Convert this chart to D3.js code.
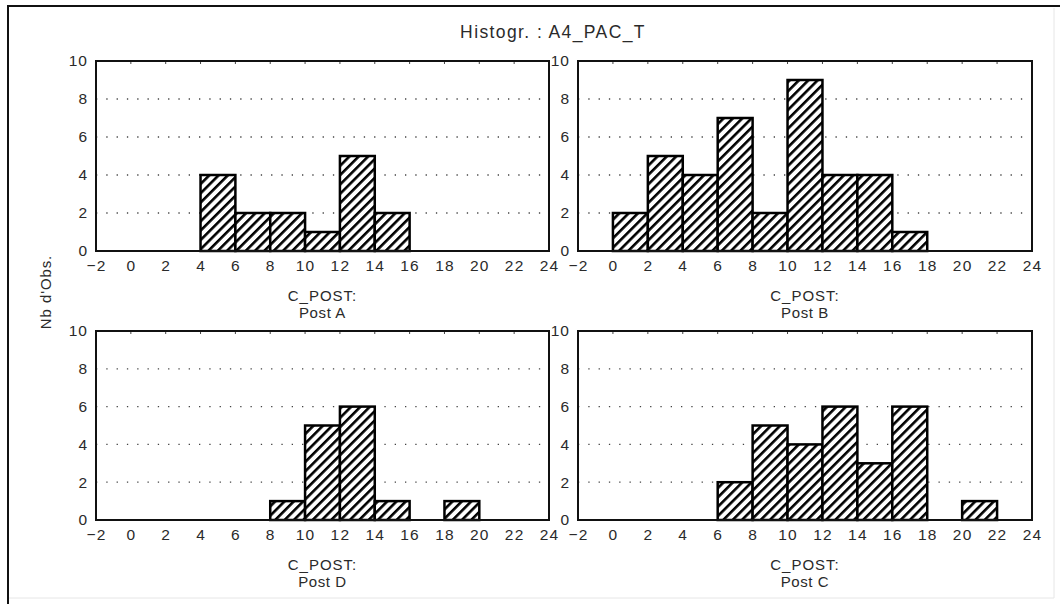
<!DOCTYPE html>
<html><head><meta charset="utf-8">
<script src="https://cdn.jsdelivr.net/npm/d3@7"></script>
<style>
html,body{margin:0;padding:0;background:#fff;}
svg{display:block;}
text{font-family:"Liberation Sans",Arial,sans-serif;fill:#2a2a2a;}
</style></head><body>
<svg id="chart" width="1060" height="604"></svg>
<script>
// ---- data ----
const title = "Histogr. : A4_PAC_T";
const yLabel = "Nb d'Obs.";
const xVar = "C_POST:";
const binStarts = [-2, 0, 2, 4, 6, 8, 10, 12, 14, 16, 18, 20, 22];
const binWidth = 2;
const xTicks = [-2, 0, 2, 4, 6, 8, 10, 12, 14, 16, 18, 20, 22, 24];
const yTicks = [0, 2, 4, 6, 8, 10];
const gridValues = [2, 4, 6, 8];
const panelNames = ["Post A", "Post B", "Post D", "Post C"];
const countsPostA = [0, 0, 0, 4, 2, 2, 1, 5, 2, 0, 0, 0, 0];
const countsPostB = [0, 2, 5, 4, 7, 2, 9, 4, 4, 1, 0, 0, 0];
const countsPostD = [0, 0, 0, 0, 0, 1, 5, 6, 1, 0, 1, 0, 0];
const countsPostC = [0, 0, 0, 0, 2, 5, 4, 6, 3, 6, 0, 1, 0];
const panelCounts = [countsPostA, countsPostB, countsPostD, countsPostC];

// ---- layout ----
const svg = d3.select("#chart");
const cols = [[96, 549], [578, 1032]];
const rows = [[61, 251], [331, 520]];

// frame
svg.append("line").attr("x1", 8).attr("y1", 6).attr("x2", 1060).attr("y2", 6).attr("stroke", "#111").attr("stroke-width", 2);
svg.append("line").attr("x1", 8).attr("y1", 5).attr("x2", 8).attr("y2", 604).attr("stroke", "#111").attr("stroke-width", 2);
svg.append("line").attr("x1", 1054).attr("y1", 8).attr("x2", 1054).attr("y2", 598).attr("stroke", "#e6e6e6").attr("stroke-width", 1);
svg.append("line").attr("x1", 9).attr("y1", 598).attr("x2", 1054).attr("y2", 598).attr("stroke", "#e6e6e6").attr("stroke-width", 1);

// hatch pattern
const defs = svg.append("defs");
const pat = defs.append("pattern").attr("id", "hatch")
  .attr("patternUnits", "userSpaceOnUse").attr("width", 6.6).attr("height", 20)
  .attr("patternTransform", "rotate(45)");
pat.append("rect").attr("width", 6.6).attr("height", 20).attr("fill", "#fff");
pat.append("line").attr("x1", 1.3).attr("y1", 0).attr("x2", 1.3).attr("y2", 20)
  .attr("stroke", "#000").attr("stroke-width", 2.6);

// title
svg.append("text").attr("x", 553).attr("y", 38).attr("text-anchor", "middle")
  .attr("font-size", 17.5).attr("letter-spacing", 1.4).text(title);

// y label
svg.append("text").attr("transform", "translate(51,292) rotate(-90)")
  .attr("text-anchor", "middle").attr("font-size", 15).attr("letter-spacing", 0.9).text(yLabel);

panelCounts.forEach((counts, i) => {
  const [x0, x1] = cols[i % 2];
  const [y0, y1] = rows[Math.floor(i / 2)];
  const x = d3.scaleLinear().domain([-2, 24]).range([x0, x1]);
  const y = d3.scaleLinear().domain([0, 10]).range([y1, y0]);
  const g = svg.append("g");

  // dotted grid
  g.selectAll(".grid").data(gridValues).join("line")
    .attr("x1", x0).attr("x2", x1)
    .attr("y1", d => y(d)).attr("y2", d => y(d))
    .attr("stroke", "#444").attr("stroke-width", 1.3)
    .attr("stroke-dasharray", "1.3,9");

  // small ticks at top edge
  g.selectAll(".tt").data(xTicks.slice(1, -1)).join("line")
    .attr("x1", d => x(d)).attr("x2", d => x(d))
    .attr("y1", y0).attr("y2", y0 + 3).attr("stroke", "#444").attr("stroke-width", 1);

  // bars
  const data = binStarts.map((b, k) => ({ b, c: counts[k] })).filter(d => d.c > 0);
  g.selectAll(".bar").data(data).join("rect")
    .attr("x", d => x(d.b)).attr("width", d => x(d.b + binWidth) - x(d.b))
    .attr("y", d => y(d.c)).attr("height", d => y(0) - y(d.c))
    .attr("fill", "url(#hatch)").attr("stroke", "#000").attr("stroke-width", 2.5);

  // frame
  g.append("rect").attr("x", x0).attr("y", y0).attr("width", x1 - x0).attr("height", y1 - y0)
    .attr("fill", "none").attr("stroke", "#111").attr("stroke-width", 2);

  // y axis labels
  const ya = d3.axisLeft(y).tickValues(yTicks).tickSize(0).tickPadding(8).tickFormat(d3.format("d"));
  const yg = g.append("g").attr("transform", `translate(${x0},0)`).call(ya);
  yg.select(".domain").remove();
  yg.selectAll("text").attr("font-size", 15.5).attr("font-family", null).attr("fill", "#2a2a2a")
    .attr("letter-spacing", 1);

  // x axis labels
  const xa = d3.axisBottom(x).tickValues(xTicks).tickSize(0).tickPadding(9).tickFormat(d3.format("d"));
  const xg = g.append("g").attr("transform", `translate(0,${y1})`).call(xa);
  xg.select(".domain").remove();
  xg.selectAll("text").attr("font-size", 15.5).attr("font-family", null).attr("fill", "#2a2a2a")
    .attr("letter-spacing", 1.2);

  // x titles
  const cx = (x0 + x1) / 2;
  g.append("text").attr("x", cx).attr("y", y1 + 50).attr("text-anchor", "middle")
    .attr("font-size", 15).attr("letter-spacing", 1).text(xVar);
  g.append("text").attr("x", cx).attr("y", y1 + 67).attr("text-anchor", "middle")
    .attr("font-size", 15).attr("letter-spacing", 0.6).text(panelNames[i]);
});
</script>
</body></html>
